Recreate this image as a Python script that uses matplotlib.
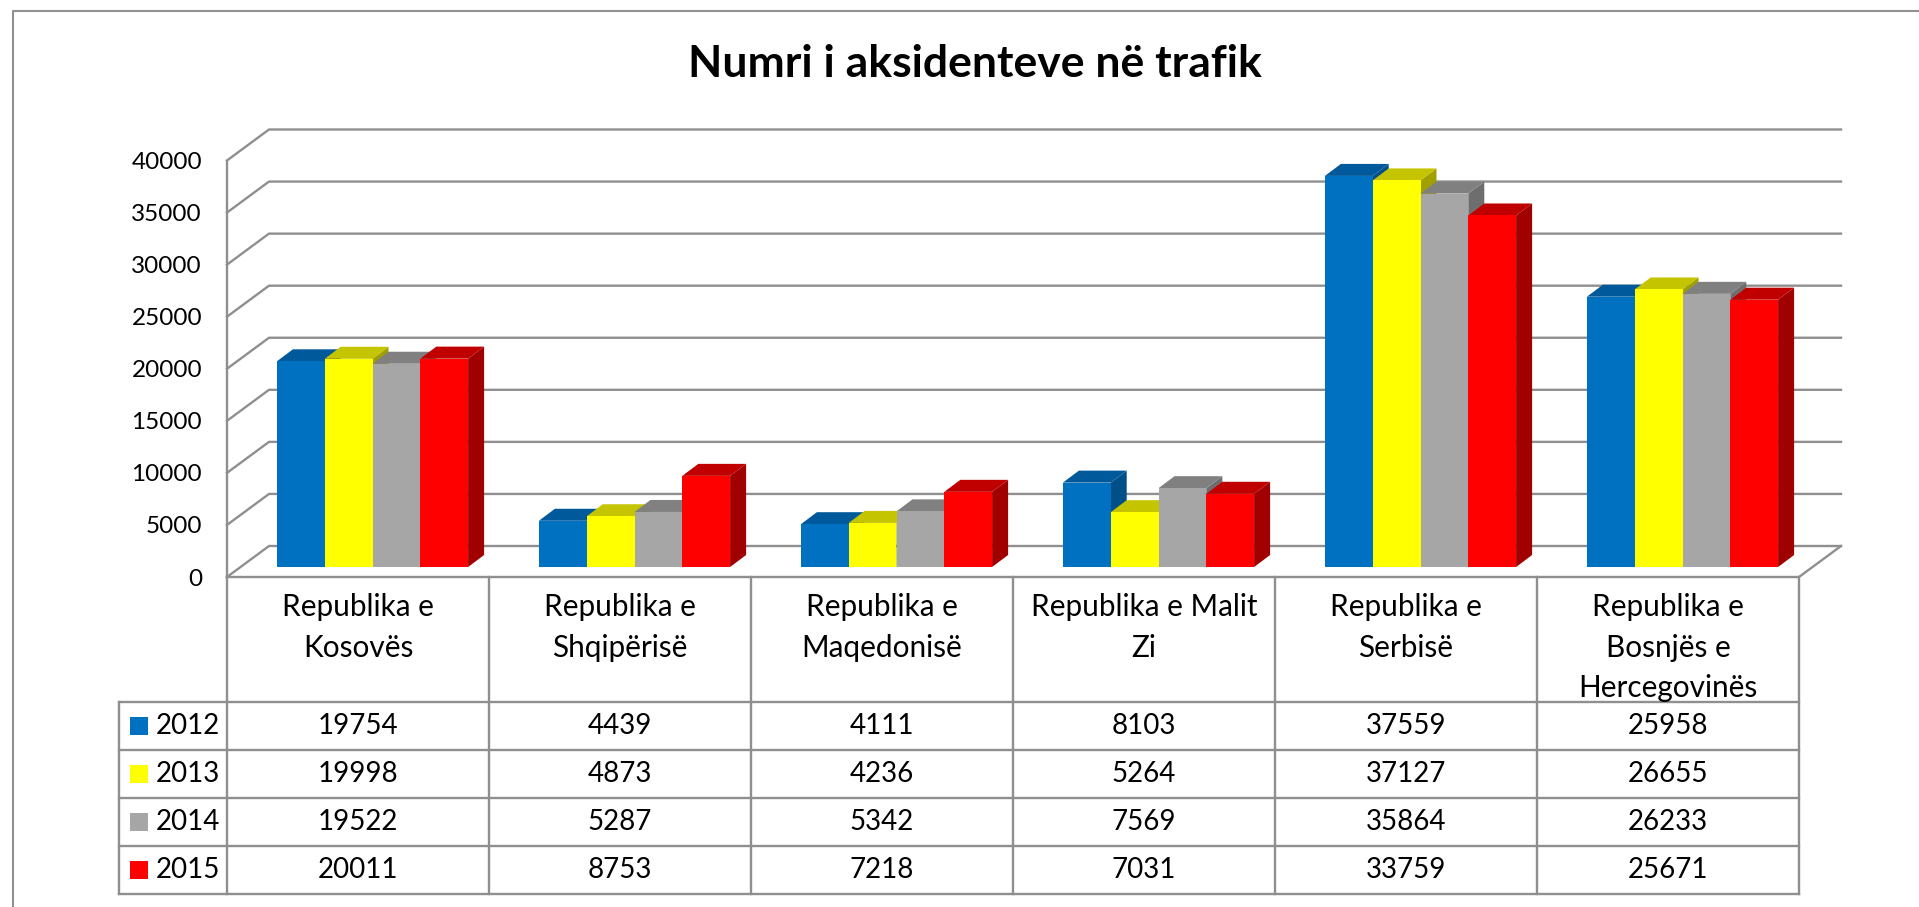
import matplotlib
matplotlib.use("Agg")
from matplotlib import pyplot as plt
from matplotlib.patches import Polygon, Rectangle

plt.rcParams['font.family'] = ['Lato', 'DejaVu Sans']

categories = ['Republika e\nKosovës', 'Republika e\nShqipërisë', 'Republika e\nMaqedonisë',
              'Republika e Malit\nZi', 'Republika e\nSerbisë', 'Republika e\nBosnjës e\nHercegovinës']
years = ['2012', '2013', '2014', '2015']
v2012 = [19754, 4439, 4111, 8103, 37559, 25958]
v2013 = [19998, 4873, 4236, 5264, 37127, 26655]
v2014 = [19522, 5287, 5342, 7569, 35864, 26233]
v2015 = [20011, 8753, 7218, 7031, 33759, 25671]
series = [v2012, v2013, v2014, v2015]
yticks = [0, 5000, 10000, 15000, 20000, 25000, 30000, 35000, 40000]

front = ['#0070C0', '#FFFF00', '#A6A6A6', '#FF0000']
top = ['#00599A', '#C4C400', '#808080', '#C00000']
side = ['#004F88', '#A0A000', '#6E6E6E', '#A00000']
gray = '#8F8F8F'
lw = 1.7

W, H = 1919, 907
fig = plt.figure(figsize=(W / 100, H / 100), dpi=100)

# page axes in pixels, for border, title and the data table
page = fig.add_axes([0, 0, 1, 1])
page.set_xlim(0, W)
page.set_ylim(H, 0)
page.axis('off')

# plot axes: front plane of the 3d box
left, right, y0, y40 = 227, 1799, 577, 160.5
ax = fig.add_axes([left / W, 1 - y0 / H, (right - left) / W, (y0 - y40) / H])
ax.patch.set_alpha(0)
ax.set_xlim(0, 6)
ax.set_ylim(0, 40000)
for s in ['top', 'right', 'bottom']:
    ax.spines[s].set_visible(False)
ax.spines['left'].set_color(gray)
ax.spines['left'].set_linewidth(lw)
ax.set_xticks([])
ax.set_yticks(yticks)
ax.tick_params(axis='y', length=0, pad=18, labelsize=17.5, labelcolor='black')

px = 6 / (right - left)
py = 40000 / (y0 - y40)
wall_x, wall_y = 42 * px, 31 * py
depth_x, depth_y = 16 * px, 12 * py
shift_x, shift_y = 14.5 * px, 10 * py
bar_w = 47.8 * px

for v in yticks:
    ax.plot([0, wall_x, 6 + wall_x], [v, v + wall_y, v + wall_y], color=gray, lw=lw, clip_on=False, zorder=1)
ax.plot([0, 6, 6 + wall_x], [0, 0, wall_y], color=gray, lw=lw, clip_on=False, zorder=1)

for i in range(len(categories)):
    start = i + 0.5 - 2 * bar_w + shift_x
    for j in range(len(series)):
        x0 = start + j * bar_w
        x1 = x0 + bar_w
        val = series[j][i]
        ax.add_patch(Polygon([(x1, shift_y), (x1 + depth_x, shift_y + depth_y), (x1 + depth_x, val + shift_y + depth_y), (x1, val + shift_y)],
                             fc=side[j], ec='none', clip_on=False, zorder=2))
        ax.add_patch(Polygon([(x0, val + shift_y), (x1, val + shift_y), (x1 + depth_x, val + shift_y + depth_y), (x0 + depth_x, val + shift_y + depth_y)],
                             fc=top[j], ec='none', clip_on=False, zorder=2))
        ax.add_patch(Rectangle((x0, shift_y), bar_w, val, fc=front[j], ec='none', clip_on=False, zorder=2))

# outer border, open on the right and at the bottom
page.plot([13, 13, W], [H, 10.5, 10.5], color=gray, lw=1.5)
page.text(975, 64, 'Numri i aksidenteve në trafik', ha='center', va='center', fontsize=32, fontweight='bold')

# data table
col_w = (right - left) / 6
head_bottom = 702
row_h = 48
bottom = head_bottom + row_h * 4
tab_left = 119
for k in range(7):
    page.plot([left + k * col_w] * 2, [y0, bottom], color=gray, lw=lw)
for r in range(5):
    page.plot([tab_left, right], [head_bottom + r * row_h] * 2, color=gray, lw=lw)
page.plot([tab_left, tab_left], [head_bottom, bottom], color=gray, lw=lw)

for i, name in enumerate(categories):
    page.text(left + (i + 0.5) * col_w, 593, name, ha='center', va='top', fontsize=21.4, linespacing=1.55)
    for r in range(len(series)):
        page.text(left + (i + 0.5) * col_w, head_bottom + (r + 0.5) * row_h, str(series[r][i]),
                  ha='center', va='center', fontsize=20)

for r, y in enumerate(years):
    yc = head_bottom + (r + 0.5) * row_h
    page.add_patch(Rectangle((130, yc - 9), 18, 18, fc=front[r], ec='none'))
    page.text(188, yc, y, ha='center', va='center', fontsize=20)

fig.savefig('out.png', dpi=100)
